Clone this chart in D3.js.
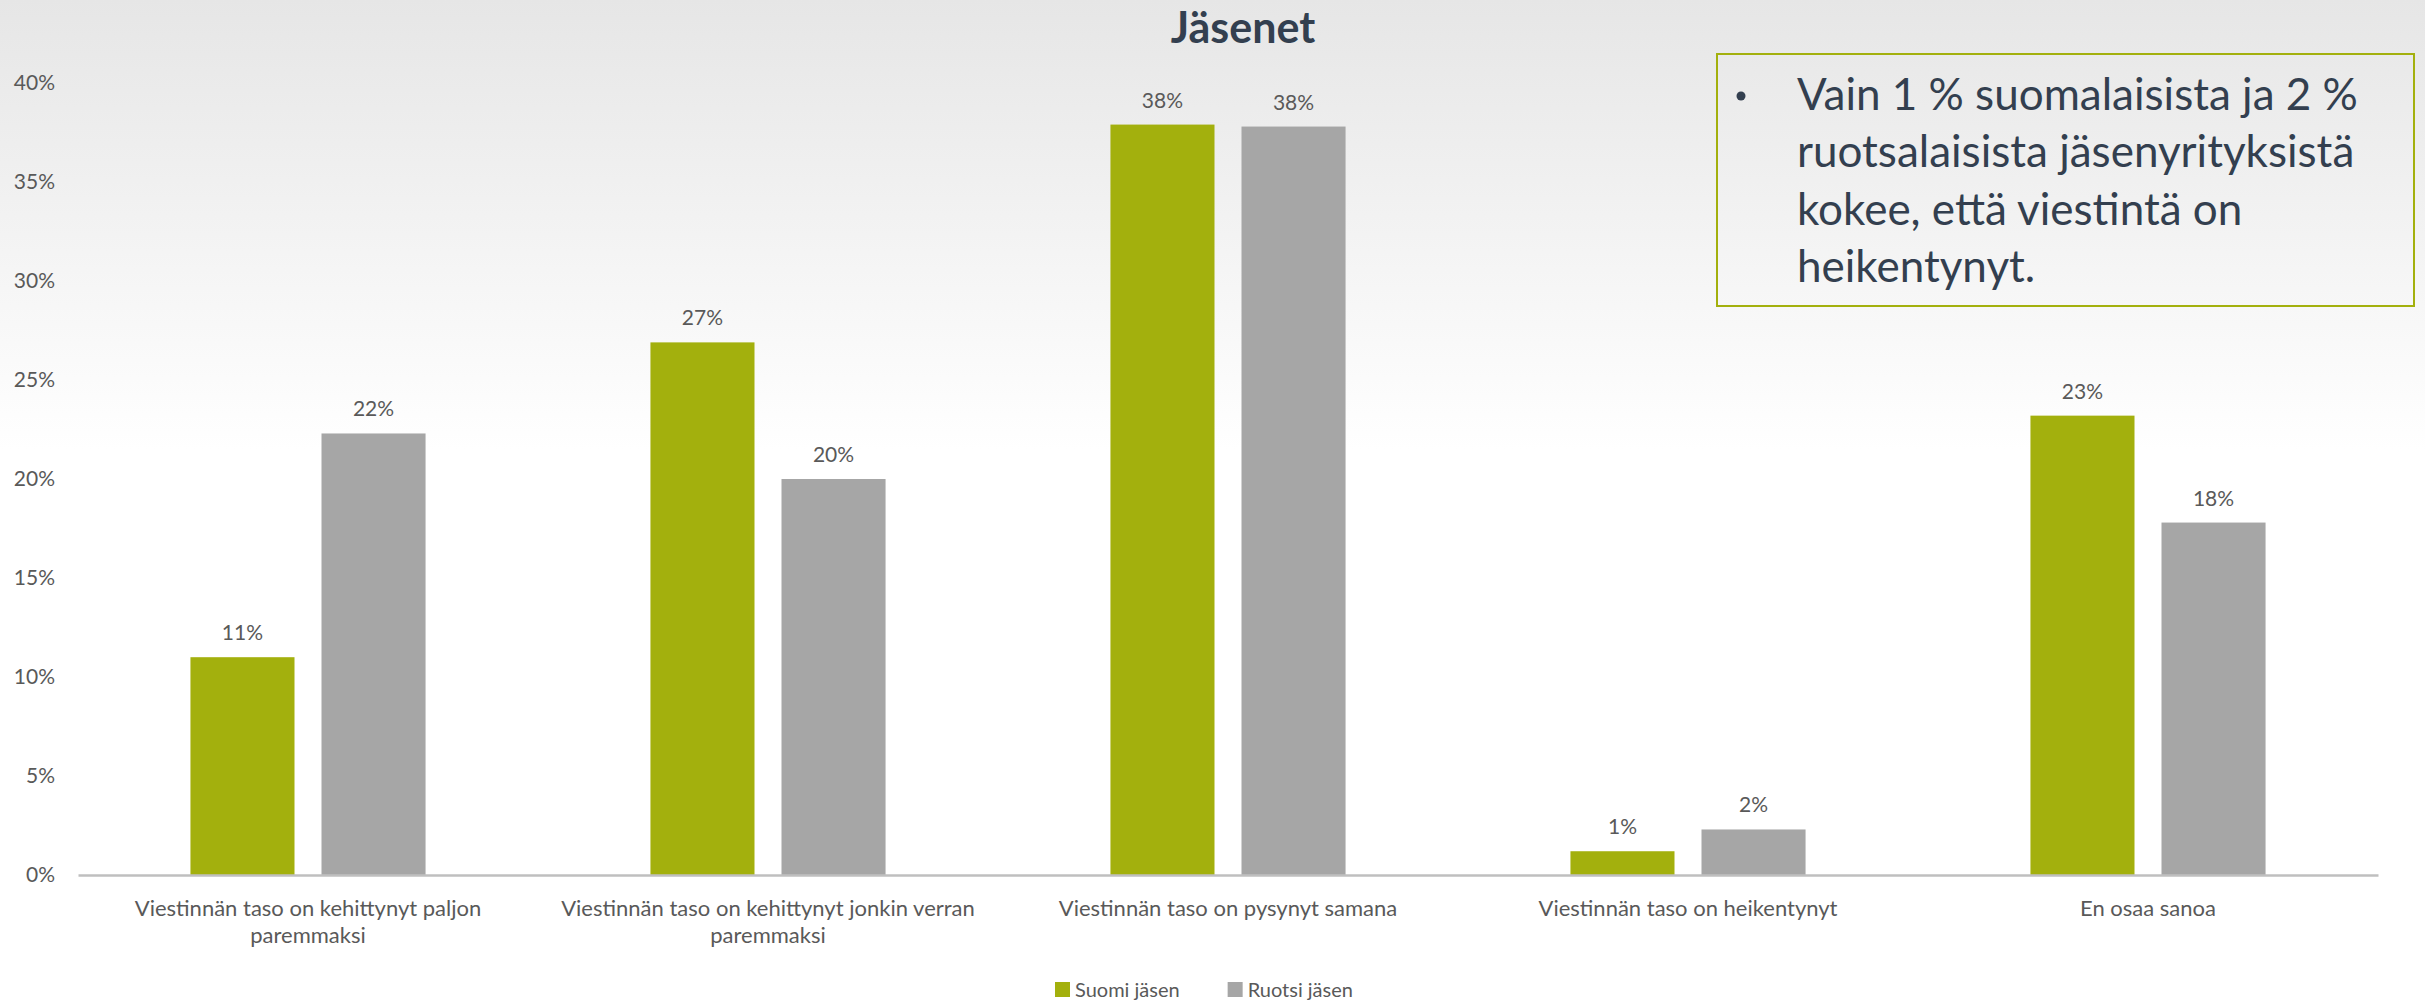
<!DOCTYPE html>
<html lang="fi">
<head>
<meta charset="utf-8">
<title>Jäsenet</title>
<script src="https://cdn.jsdelivr.net/npm/d3@7"></script>
<style>
  html, body { margin: 0; padding: 0; background: #fff; }
  svg { display: block; }
  text { font-family: Lato, "Open Sans", "Noto Sans", sans-serif; }
</style>
</head>
<body>
<div id="chart"></div>
<script>
// Survey answers: how has communication developed (members, Finland vs Sweden)
const categories = [
  "Viestinnän taso on kehittynyt paljon paremmaksi",
  "Viestinnän taso on kehittynyt jonkin verran paremmaksi",
  "Viestinnän taso on pysynyt samana",
  "Viestinnän taso on heikentynyt",
  "En osaa sanoa"
];
const seriesNames = ["Suomi jäsen", "Ruotsi jäsen"];
const suomiValues = [0.110, 0.269, 0.379, 0.012, 0.232];
const ruotsiValues = [0.223, 0.200, 0.378, 0.023, 0.178];
const yTickValues = [0, 0.05, 0.10, 0.15, 0.20, 0.25, 0.30, 0.35, 0.40];
const titleText = "Jäsenet";
const noteLines = [
  "Vain 1 % suomalaisista ja 2 %",
  "ruotsalaisista jäsenyrityksistä",
  "kokee, että viestintä on",
  "heikentynyt."
];

const W = 2425, H = 1001;
const plot = { left: 78, right: 2378, top: 83, bottom: 875 };
const colors = { "Suomi jäsen": "#a3b00d", "Ruotsi jäsen": "#a6a6a6" };
const textGrey = "#595959";
const dark = "#333f4f";

const rows = categories.map((c, i) => ({
  category: c,
  values: [
    { series: seriesNames[0], value: suomiValues[i] },
    { series: seriesNames[1], value: ruotsiValues[i] }
  ]
}));

const svg = d3.select("#chart").append("svg")
  .attr("width", W).attr("height", H);

// soft grey-to-white backdrop
const defs = svg.append("defs");
const bg = defs.append("linearGradient").attr("id", "bg")
  .attr("x1", 0).attr("y1", 0).attr("x2", 0).attr("y2", 1);
bg.append("stop").attr("offset", "0%").attr("stop-color", "#e6e6e6");
bg.append("stop").attr("offset", "45%").attr("stop-color", "#ffffff");
bg.append("stop").attr("offset", "100%").attr("stop-color", "#ffffff");
svg.append("rect").attr("width", W).attr("height", H).attr("fill", "url(#bg)");

const x0 = d3.scaleBand().domain(categories).range([plot.left, plot.right]).padding(0);
const x1 = d3.scaleBand().domain(seriesNames).range([0, x0.bandwidth()])
  .paddingInner(0.206).paddingOuter(0.858);
const y = d3.scaleLinear().domain([0, 0.4]).range([plot.bottom, plot.top]);
const pct = d3.format(".0%");

// title
svg.append("text")
  .attr("x", 1243).attr("y", 43)
  .attr("text-anchor", "middle")
  .attr("font-size", 43).attr("font-weight", 700)
  .attr("fill", dark)
  .text(titleText);

// y axis labels (no axis line, no gridlines)
const yAxis = svg.append("g")
  .attr("transform", `translate(${plot.left},0)`)
  .call(d3.axisLeft(y).tickValues(yTickValues).tickFormat(pct).tickSize(0).tickPadding(23));
yAxis.select(".domain").remove();
yAxis.selectAll("text")
  .attr("font-family", "Lato, 'Open Sans', sans-serif")
  .attr("font-size", 21).attr("fill", textGrey);

// bars
const groups = svg.append("g").selectAll("g")
  .data(rows).join("g")
  .attr("transform", d => `translate(${x0(d.category)},0)`);

groups.selectAll("rect")
  .data(d => d.values).join("rect")
  .attr("x", d => x1(d.series))
  .attr("y", d => y(d.value))
  .attr("width", x1.bandwidth())
  .attr("height", d => y(0) - y(d.value))
  .attr("fill", d => colors[d.series]);

// value labels
groups.selectAll("text.val")
  .data(d => d.values).join("text")
  .attr("class", "val")
  .attr("x", d => x1(d.series) + x1.bandwidth() / 2)
  .attr("y", d => y(d.value) - 17)
  .attr("text-anchor", "middle")
  .attr("font-size", 21).attr("fill", textGrey)
  .text(d => pct(d.value));

// category axis line and wrapped category names
const xAxis = svg.append("g")
  .attr("transform", `translate(0,${plot.bottom})`)
  .call(d3.axisBottom(x0).tickSize(0));
xAxis.select(".domain").attr("stroke", "#bfbfbf").attr("stroke-width", 2.5);
xAxis.selectAll(".tick text")
  .attr("font-size", 22).attr("fill", textGrey)
  .each(function (d) { wrap(d3.select(this), d, 430); });

function wrap(sel, label, maxWidth) {
  const words = label.split(" ");
  sel.text(null).attr("y", 25).attr("dy", 0);
  let line = [];
  let tspan = sel.append("tspan").attr("x", 0).attr("dy", "0.71em");
  words.forEach(w => {
    line.push(w);
    tspan.text(line.join(" "));
    if (tspan.node().getComputedTextLength() > maxWidth && line.length > 1) {
      line.pop();
      tspan.text(line.join(" "));
      line = [w];
      tspan = sel.append("tspan").attr("x", 0).attr("dy", 27).text(w);
    }
  });
}

// legend
const legend = svg.append("g").attr("transform", "translate(1055,990)");
let lx = 0;
seriesNames.forEach(name => {
  const item = legend.append("g").attr("transform", `translate(${lx},0)`);
  item.append("rect").attr("x", 0).attr("y", -8).attr("width", 15).attr("height", 15)
    .attr("fill", colors[name]);
  const t = item.append("text").attr("x", 20).attr("y", 7)
    .attr("font-size", 20).attr("fill", textGrey).text(name);
  lx += 20 + t.node().getComputedTextLength() + 48;
});

// note box
const note = svg.append("g");
note.append("rect")
  .attr("x", 1717).attr("y", 54).attr("width", 697).attr("height", 252)
  .attr("fill", "none").attr("stroke", "#a3b00d").attr("stroke-width", 2);
note.append("circle").attr("cx", 1741).attr("cy", 96).attr("r", 4.5).attr("fill", dark);
note.selectAll("text.note")
  .data(noteLines).join("text")
  .attr("class", "note")
  .attr("x", 1797)
  .attr("y", (d, i) => 110 + i * 57.3)
  .attr("font-size", 44).attr("fill", dark)
  .text(d => d);
</script>
</body>
</html>
